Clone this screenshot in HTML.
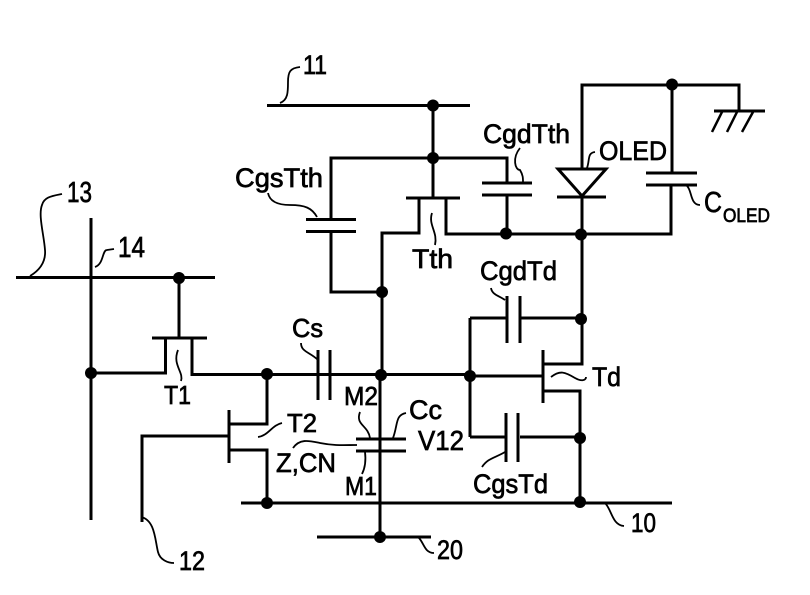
<!DOCTYPE html>
<html><head><meta charset="utf-8"><style>
html,body{margin:0;padding:0;background:#fff}
svg{display:block}
text{font-family:"Liberation Sans",sans-serif;fill:#000;stroke:#000;stroke-width:.7}
</style></head><body>
<svg width="810" height="595" viewBox="0 0 810 595" xmlns="http://www.w3.org/2000/svg">
<g fill="none" stroke="#000" stroke-width="3">
<path d="M16 277.500H215M91 218V520M179 278V338M152 338H207M165.500 338V373H91M192 338V374.500H470M267 374V424H229M229 410V463M229 450H267V503M229 436H142V522"/>
<path d="M267 105.500H470M433 105V198M406 198H460M331 218V158H507V183M331 231V292H381M419 198V233H382V375M380 375V537M446 198V234H671V185M507 195V234"/>
<path d="M306 219.500H356M306 231.500H356M482 183H532M482 195H532"/>
<path d="M582 169V85H739V111M672 85V173M714 111H765M646 173H697M646 185H697"/>
<path d="M722 112L712 132M737 112L727 132M753 112L742 132" stroke-width="2.500"/>
<path d="M558 169H606L582 196ZM557 197H606M582 197V364H543M543 350V403M543 391H580V503M470 376H543"/>
<path d="M470 318V437M470 318H507M507 296V343M520 296V343M520 318H581M470 437H506M506 413V462M518 413V462M520 437H580"/>
<path d="M318 350V400M330 350V400M356 439H406M356 451H406M241 503H672M317 537H431"/>
</g>
<g fill="#000">
<circle cx="91" cy="373" r="6"/><circle cx="179" cy="278" r="6"/><circle cx="267" cy="374" r="6"/>
<circle cx="433" cy="105.500" r="6"/><circle cx="433" cy="158" r="6"/><circle cx="382" cy="292" r="6"/>
<circle cx="506" cy="233.500" r="6"/><circle cx="581" cy="234.500" r="6"/><circle cx="672" cy="84.500" r="6"/>
<circle cx="581" cy="319" r="6"/><circle cx="470" cy="376" r="6"/><circle cx="381" cy="375" r="6"/>
<circle cx="580" cy="438" r="6"/><circle cx="580" cy="502" r="6"/><circle cx="267" cy="503" r="6"/><circle cx="380" cy="537" r="6"/>
</g>
<g fill="none" stroke="#000" stroke-width="1.800">
<path d="M30 276C40 270 46 262 45 250C44 235 38 215 42 205C44 197 52 196 62 194"/>
<path d="M95 267C104 264 102 250 107 250L114 249"/>
<path d="M280 103C288 100 288 92 288 82C288 72 290 68 300 67"/>
<path d="M268 193C270 203 280 205 290 205C305 205 312 208 317 217"/>
<path d="M520 148C512 158 515 170 520 170C523 175 523 178 523 182"/>
<path d="M587 168C590 160 587 153 595 152"/>
<path d="M687 186C692 190 690 205 700 205"/>
<path d="M432 213C428 225 438 232 435 245"/>
<path d="M178 350C172 365 184 372 181 381"/>
<path d="M301 343C301 352 310 352 318 360"/>
<path d="M258 437C268 436 272 425 282 423"/>
<path d="M293 448C300 438 310 441 320 443C335 446 345 445 357 445"/>
<path d="M360 412C355 425 368 425 370 438"/>
<path d="M406 413C395 415 398 425 393 438"/>
<path d="M365 452C366 460 365 468 362 474"/>
<path d="M551 377C560 370 565 372 575 378C582 382 586 380 586 377"/>
<path d="M482 467C488 458 495 458 505 452"/>
<path d="M491 288C492 295 500 296 505 300"/>
<path d="M605 503C612 510 612 525 624 526"/>
<path d="M418 537C424 542 424 553 434 553"/>
<path d="M141 517C155 520 155 540 158 552C160 560 168 563 174 563"/>
</g>
<g font-size="27">
<text x="67" y="202" font-size="29" textLength="25" lengthAdjust="spacingAndGlyphs">13</text>
<text x="118" y="257" font-size="29" textLength="27" lengthAdjust="spacingAndGlyphs">14</text>
<text x="303" y="74" textLength="24" lengthAdjust="spacingAndGlyphs">11</text>
<text x="235" y="187" textLength="88" lengthAdjust="spacingAndGlyphs">CgsTth</text>
<text x="483" y="143" textLength="87" lengthAdjust="spacingAndGlyphs">CgdTth</text>
<text x="599" y="160" textLength="68" lengthAdjust="spacingAndGlyphs">OLED</text>
<text x="704" y="212" font-size="29" textLength="18" lengthAdjust="spacingAndGlyphs">C</text>
<text x="723" y="222" font-size="19" textLength="47" lengthAdjust="spacingAndGlyphs">OLED</text>
<text x="412" y="268" textLength="41" lengthAdjust="spacingAndGlyphs">Tth</text>
<text x="480" y="280" textLength="77" lengthAdjust="spacingAndGlyphs">CgdTd</text>
<text x="164" y="404" font-size="26" textLength="27" lengthAdjust="spacingAndGlyphs">T1</text>
<text x="287" y="432" font-size="26" textLength="30" lengthAdjust="spacingAndGlyphs">T2</text>
<text x="276" y="472" textLength="60" lengthAdjust="spacingAndGlyphs">Z,CN</text>
<text x="345" y="495" font-size="26" textLength="32" lengthAdjust="spacingAndGlyphs">M1</text>
<text x="344" y="405" font-size="26" textLength="34" lengthAdjust="spacingAndGlyphs">M2</text>
<text x="292" y="337" font-size="26" textLength="31" lengthAdjust="spacingAndGlyphs">Cs</text>
<text x="409" y="419" textLength="33" lengthAdjust="spacingAndGlyphs">Cc</text>
<text x="418" y="450" font-size="28" textLength="46" lengthAdjust="spacingAndGlyphs">V12</text>
<text x="592" y="386" textLength="29" lengthAdjust="spacingAndGlyphs">Td</text>
<text x="473" y="493" textLength="75" lengthAdjust="spacingAndGlyphs">CgsTd</text>
<text x="631" y="532" textLength="25" lengthAdjust="spacingAndGlyphs">10</text>
<text x="437" y="559" textLength="26" lengthAdjust="spacingAndGlyphs">20</text>
<text x="179" y="570" textLength="26" lengthAdjust="spacingAndGlyphs">12</text>
</g>
</svg>
</body></html>
